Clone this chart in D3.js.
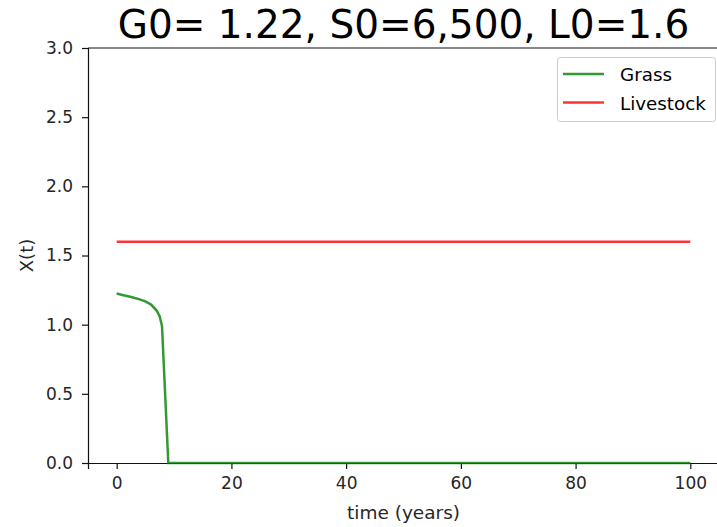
<!DOCTYPE html>
<html><head><meta charset="utf-8">
<script src="https://cdn.jsdelivr.net/npm/d3@7"></script>
<style>body{margin:0;background:#fff;} text{font-family:"DejaVu Sans",sans-serif;}</style>
</head><body>
<svg id="chart" width="717" height="527"></svg>
<script>
const title = "G0= 1.22, S0=6,500, L0=1.6";
const xTicks = [0, 20, 40, 60, 80, 100];
const yTicks = [0.0, 0.5, 1.0, 1.5, 2.0, 2.5, 3.0];
const grassTime = [0, 1, 2, 3, 4, 5, 6, 7, 7.5, 7.9, 9, 10, 20, 40, 60, 80, 100];
const grassValue = [1.225, 1.215, 1.205, 1.195, 1.183, 1.168, 1.145, 1.10, 1.06, 0.99, 0, 0, 0, 0, 0, 0, 0];
const livestockTime = [0, 100];
const livestockValue = [1.6, 1.6];
const seriesNames = ["Grass", "Livestock"];
const seriesColors = ["rgba(0,128,0,0.8)", "rgba(255,0,0,0.8)"];

(function () {
const svg = d3.select("#chart");
const mL = 88, mR = 719, mT = 48, mB = 463;
const x = d3.scaleLinear().domain([-5, 105]).range([mL, mR]);
const y = d3.scaleLinear().domain([0, 3]).range([mB, mT]);

const styleAxis = g => {
  g.select(".domain").attr("stroke", "#111").attr("stroke-width", 1.2);
  g.selectAll("text").attr("font-size", 17).attr("fill", "#262626").attr("font-family", "DejaVu Sans");
  g.selectAll("line").attr("stroke", "#111").attr("stroke-width", 1.2);
};
svg.append("g").attr("transform", `translate(0,${mB})`)
  .call(d3.axisBottom(x).tickValues(xTicks).tickFormat(d3.format("d")).tickSize(6).tickPadding(8))
  .call(styleAxis);
svg.append("g").attr("transform", `translate(${mL},0)`)
  .call(d3.axisLeft(y).tickValues(yTicks).tickFormat(d3.format(".1f")).tickSize(6).tickPadding(9))
  .call(styleAxis);
svg.append("line").attr("x1", mL).attr("x2", mR).attr("y1", mT).attr("y2", mT)
  .attr("stroke", "#111").attr("stroke-width", 1.2);
svg.append("line").attr("x1", mR - 0.5).attr("x2", mR - 0.5).attr("y1", mT).attr("y2", mB)
  .attr("stroke", "#111").attr("stroke-width", 1.2);

const line = d3.line().x(d => x(d[0])).y(d => y(d[1]));
svg.append("path").datum(grassTime.map((t, i) => [t, grassValue[i]]))
  .attr("d", line).attr("fill", "none").attr("stroke", seriesColors[0]).attr("stroke-width", 2.5);
svg.append("path").datum(livestockTime.map((t, i) => [t, livestockValue[i]]))
  .attr("d", line).attr("fill", "none").attr("stroke", seriesColors[1]).attr("stroke-width", 2.5);

svg.append("text").attr("x", (mL + mR) / 2).attr("y", 38).attr("text-anchor", "middle")
  .attr("font-size", 39).attr("fill", "#000").text(title);
svg.append("text").attr("x", (mL + mR) / 2).attr("y", 519).attr("text-anchor", "middle")
  .attr("font-size", 18.5).attr("fill", "#262626").text("time (years)");
svg.append("text").attr("transform", `translate(33,${(mT + mB) / 2}) rotate(-90)`)
  .attr("text-anchor", "middle").attr("font-size", 18).attr("fill", "#262626").text("X(t)");

const lg = svg.append("g");
lg.append("rect").attr("x", 557.5).attr("y", 57.5).attr("width", 158).attr("height", 64)
  .attr("rx", 3).attr("fill", "#fff").attr("fill-opacity", 0.8).attr("stroke", "#ccc");
seriesNames.forEach((n, i) => {
  const yy = 74 + i * 28.5;
  lg.append("line").attr("x1", 563).attr("x2", 604).attr("y1", yy).attr("y2", yy)
    .attr("stroke", seriesColors[i]).attr("stroke-width", 2.5);
  lg.append("text").attr("x", 620).attr("y", yy + 7).attr("font-size", 18.3).attr("fill", "#000").text(n);
});
})();
</script>
</body></html>
